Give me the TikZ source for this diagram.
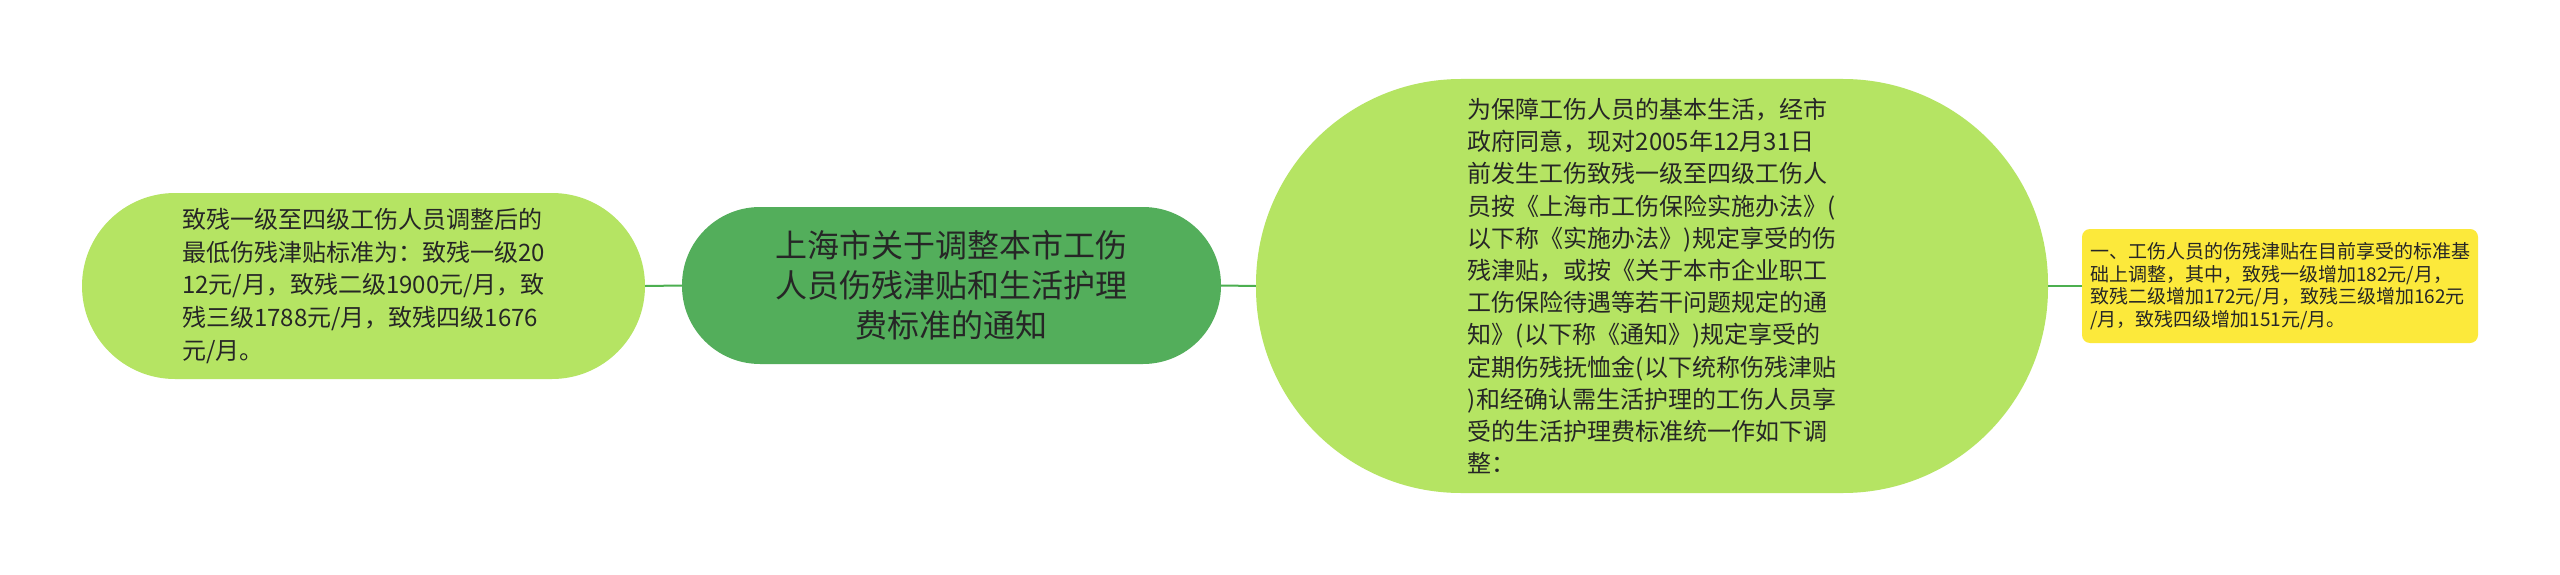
\documentclass[tikz,border=0pt]{standalone}
\usepackage{fontspec}
\setmainfont{Noto Sans CJK SC}
\definecolor{lightg}{HTML}{B5E463}
\definecolor{midg}{HTML}{53AE5B}
\definecolor{yel}{HTML}{FCE93B}
\definecolor{linkg}{HTML}{4CAF50}
\definecolor{txt}{HTML}{262626}
\tikzset{
  box/.style={inner sep=0pt, text=txt, anchor=center},
  link/.style={draw=linkg, line width=2pt}
}
\begin{document}
\begin{tikzpicture}[x=1pt,y=-1pt]
\useasboundingbox (0,0) rectangle (2560,575);
\fill[white] (0,0) rectangle (2560,575);
% shapes
\path[fill=lightg, rounded corners=93pt] (82,193) rectangle (645,379);
\path[fill=midg, rounded corners=78pt] (682,207) rectangle (1221,364);
\path[fill=lightg, rounded corners=205pt] (1256,79) rectangle (2048,493);
\path[fill=yel, rounded corners=8pt] (2082,229) rectangle (2478,343);
% invisible anchors for nodes
\node[box, minimum width=563pt, minimum height=186pt] (L) at (363.5,286) {};
\node[box, minimum width=539pt, minimum height=157pt] (C) at (951.5,285.5) {};
\node[box, minimum width=792pt, minimum height=414pt] (R) at (1652,286) {};
\node[box, minimum width=396pt, minimum height=114pt] (Y) at (2280,286) {};
% texts
\node[box, align=left, font=\fontsize{24}{32.7}\selectfont] (Lt) at (L.center)
{致残一级至四级工伤人员调整后的\\最低伤残津贴标准为：致残一级20\\12元/月，致残二级1900元/月，致\\残三级1788元/月，致残四级1676\\元/月。};
\node[box, align=center, font=\fontsize{32}{40}\selectfont] (Ct) at (C.center)
{上海市关于调整本市工伤\\人员伤残津贴和生活护理\\费标准的通知};
\node[box, align=left, font=\fontsize{24}{32.2}\selectfont] (Rt) at (R.center)
{为保障工伤人员的基本生活，经市\\政府同意，现对2005年12月31日\\前发生工伤致残一级至四级工伤人\\员按《上海市工伤保险实施办法》(\\以下称《实施办法》)规定享受的伤\\残津贴，或按《关于本市企业职工\\工伤保险待遇等若干问题规定的通\\知》(以下称《通知》)规定享受的\\定期伤残抚恤金(以下统称伤残津贴\\)和经确认需生活护理的工伤人员享\\受的生活护理费标准统一作如下调\\整：};
\node[box, align=left, font=\fontsize{19}{22.5}\selectfont] (Yt) at (Y.center)
{一、工伤人员的伤残津贴在目前享受的标准基\\础上调整，其中，致残一级增加182元/月，\\致残二级增加172元/月，致残三级增加162元\\/月，致残四级增加151元/月。};
% connectors
\draw[link] (L.east) -- (C.west);
\draw[link] (C.east) -- (R.west);
\draw[link] (R.east) -- (Y.west);
\end{tikzpicture}
\end{document}
